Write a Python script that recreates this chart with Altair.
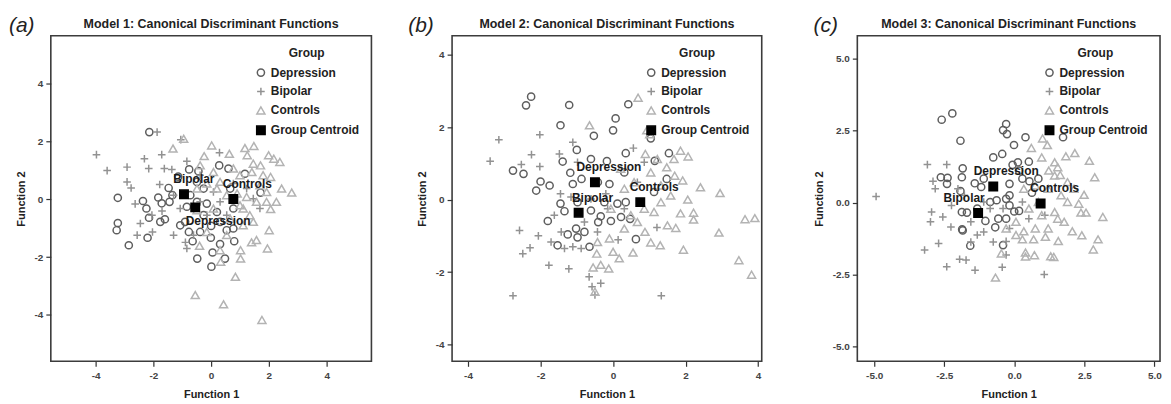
import altair as alt
import pandas as pd

GROUPS = ["Depression", "Bipolar", "Controls", "Group Centroid"]
STROKES = ["#5e5e5e", "#929292", "#b3b3b3", "#000000"]
FILLS = ["transparent", "transparent", "transparent", "#000000"]
SHAPES = ["circle", "M-1,0H1M0,-1V1", "triangle-up", "square"]
SIZES = [52, 72, 72, 64]

# ---------------- Model 1 ----------------
a_depression = [(-2.14, 2.32), (-3.23, 0.05), (-3.23, -0.82), (-3.27, -1.07), (-2.85, -1.59), (-2.36, -0.06),
                (-2.24, -0.32), (-2.15, -0.64), (-2.2, -1.33), (-1.83, 0.06), (-1.71, -0.14), (-1.76, -0.78),
                (-1.6, -0.69), (-1.44, -0.09), (-1.34, 0.14), (-1.47, 0.39), (-1.07, -0.9), (-0.77, -1.13),
                (-0.64, -1.45), (-0.48, -2.05), (0.01, -2.33), (0.05, -1.84), (-0.01, -1.33), (0.31, -1.55),
                (0.48, -2.05), (0.8, -1.45), (0.77, -1.01), (0.54, -1.07), (1.17, 0.88), (1.71, 0.23),
                (0.28, 1.17), (0.6, 1.06), (-0.44, 0.97), (-0.76, 1.03), (-1.14, 0.78), (-0.15, -0.15),
                (0.0, -0.92), (-0.26, -0.55), (-0.49, -0.09), (-0.84, -0.26), (0.2, -0.44), (0.77, -0.32),
                (-0.38, -1.13), (0.31, -0.78), (-0.72, 0.14), (0.66, 0.37), (-0.26, 0.37), (-0.9, -0.78),
                (-0.49, 0.6)]
a_bipolar = [(-1.87, 2.32), (-3.97, 1.54), (-3.6, 0.99), (-2.91, 1.11), (-2.91, 0.6), (-2.77, 0.39), (-2.31, 1.4),
             (-2.16, 1.06), (-1.71, 1.54), (-1.62, 1.06), (-1.78, 0.51), (-2.63, -0.16), (-2.45, -0.84),
             (-2.56, -1.24), (-2.03, -1.13), (-2.05, -0.55), (-1.7, -0.41), (-1.3, -1.24), (-1.05, 2.06),
             (-1.36, 1.03), (-0.84, 1.31), (-0.84, -1.7), (-0.89, -1.49), (0.29, 1.61), (-0.38, 0.83),
             (0.08, 0.25), (-0.38, -0.09), (-0.15, -0.55), (1.46, 0.02), (1.69, -0.32), (0.77, 0.54),
             (-1.07, -0.32), (-1.3, 0.14), (0.31, -0.09), (-0.61, -1.24), (1.23, 0.37), (0.54, -0.55)]
a_controls = [(-0.95, 2.09), (-1.32, 1.75), (0.02, 1.86), (-0.24, 1.49), (0.63, 1.57), (1.17, 1.77), (1.48, 1.84),
              (1.25, 1.52), (1.46, 1.23), (1.71, 1.17), (1.99, 1.52), (2.17, 1.4), (2.38, 1.29), (2.06, 0.77),
              (2.44, 0.37), (2.79, 0.23), (2.26, -0.09), (2.06, -0.34), (2.01, -1.07), (1.95, -1.7),
              (1.57, -1.41), (1.4, -1.49), (1.02, -1.76), (1.02, -2.05), (0.84, -2.68), (0.43, -3.63),
              (-0.55, -3.31), (1.76, -4.17), (0.33, -2.16), (-0.4, -1.61), (0.31, -1.76), (1.0, -0.21),
              (1.34, -0.55), (0.9, 0.2), (0.31, 0.6), (1.0, 0.83), (0.08, 0.94), (-0.38, 1.17), (-0.49, 0.37),
              (0.54, 0.14), (1.69, 0.48), (1.92, -0.09), (0.08, -0.32), (0.66, -0.67), (1.11, -0.9),
              (1.46, -0.78), (-0.15, -1.13), (0.77, 1.06), (1.41, 0.94), (1.8, 0.83), (1.57, -0.09),
              (1.23, 0.08), (0.2, 0.37), (1.11, -0.32), (-0.49, -0.38), (0.54, -1.24), (-0.15, 0.54),
              (1.92, 0.25)]
a_centroids = {"Depression": (-0.55, -0.28), "Bipolar": (-0.94, 0.17), "Controls": (0.77, 0.01)}

# ---------------- Model 2 ----------------
b_depression = [(-2.26, 2.84), (-2.4, 2.6), (-1.21, 2.61), (0.42, 2.63), (-1.45, 2.05), (0.07, 2.24), (0.0, 1.91),
                (-0.53, 1.76), (1.04, 1.69), (-1.0, 1.37), (-2.76, 0.8), (-2.47, 0.71), (-2.0, 0.5), (-1.75, 0.39),
                (-2.12, 0.25), (-1.39, 1.05), (-0.61, 1.12), (-0.17, 1.06), (0.35, 1.28), (1.15, 1.07),
                (1.54, 1.28), (1.48, 0.57), (1.13, 0.21), (-1.18, 0.74), (-0.87, 0.57), (-1.11, 0.43),
                (-0.42, 0.48), (-0.1, 0.43), (-1.45, -0.11), (-1.34, -0.32), (-1.8, -0.59), (-1.53, -1.26),
                (-1.25, -0.96), (-0.98, -1.04), (-0.79, -0.89), (-0.65, -1.3), (-0.06, -0.59), (-0.41, -0.62),
                (-0.34, -0.46), (0.12, -0.11), (0.35, -0.07), (0.47, -0.53), (0.22, -0.48), (0.63, -1.09),
                (-1.02, -0.8), (-0.61, -0.3), (-0.24, -0.07), (0.31, 0.75), (-0.98, -0.07)]
b_bipolar = [(-3.15, 1.65), (-3.39, 1.06), (-2.02, 1.79), (-2.25, 1.24), (-2.53, 0.97), (-2.02, 0.91),
             (-2.58, -0.85), (-2.49, -1.49), (-2.29, -1.33), (-2.06, -1.0), (-1.77, -1.81), (-1.22, -1.91),
             (-2.76, -2.65), (-1.11, 1.58), (-1.48, 1.26), (-0.66, -2.13), (-0.58, -2.4), (-0.5, -2.63),
             (-0.34, -2.31), (1.33, -2.65), (0.14, -1.11), (1.21, -0.77), (0.56, 1.42), (-1.62, -0.43),
             (-1.43, -0.89), (-1.34, -1.35), (-1.11, -1.3), (-0.88, -1.35), (-0.43, -0.89), (-1.45, 0.16),
             (-1.16, 0.07), (-0.61, 0.02), (-0.2, 0.16), (-0.79, -0.62), (-0.98, 1.03), (-1.71, -1.17),
             (0.31, -0.25), (0.67, 0.48), (0.86, 1.03), (-0.15, -0.25)]
b_controls = [(0.69, 2.81), (-0.65, 2.05), (0.93, 1.91), (1.01, 1.8), (0.89, 1.26), (1.22, 1.12), (1.86, 1.35),
              (2.07, 1.19), (1.48, 0.89), (1.7, 0.66), (1.92, 0.53), (2.41, 0.34), (2.95, 0.18), (2.06, 0.0),
              (1.86, -0.38), (2.22, -0.36), (2.22, -0.55), (2.92, -0.91), (3.64, -0.54), (3.91, -0.51),
              (3.47, -1.67), (3.82, -2.07), (1.94, -1.38), (1.73, -0.78), (1.5, -0.71), (1.3, -1.26),
              (1.04, -1.18), (0.88, -0.89), (0.55, -1.46), (0.17, -1.62), (0.0, -1.44), (-0.1, -1.07),
              (-0.12, -1.9), (-0.34, -1.8), (-0.55, -1.87), (-0.5, -2.54), (-0.45, -1.49), (0.49, -0.43),
              (0.86, -0.25), (1.13, -0.34), (1.32, -0.07), (1.59, 0.11), (0.31, 0.3), (0.58, 0.48),
              (1.04, 0.75), (0.21, 0.85), (-0.06, -0.25), (0.31, -0.8), (0.67, -0.62), (1.32, 0.39),
              (-0.43, -1.17), (1.68, 1.12)]
b_centroids = {"Depression": (-0.5, 0.48), "Bipolar": (-0.95, -0.36), "Controls": (0.75, -0.07)}

# ---------------- Model 3 ----------------
c_depression = [(-2.59, 2.88), (-2.21, 3.1), (-1.92, 2.15), (-0.29, 2.73), (-0.4, 2.52), (-0.26, 2.38), (0.4, 2.27),
                (-0.01, 2.0), (1.74, 2.27), (-0.75, 1.57), (-0.43, 1.69), (-0.06, 1.31), (0.13, 1.4), (0.52, 1.42),
                (-2.62, 0.88), (-2.38, 0.86), (-2.4, 0.65), (-1.84, 1.19), (-1.87, 0.88), (-1.92, 0.4),
                (-1.87, -0.33), (-1.69, -0.35), (-1.86, -0.93), (-1.84, -0.97), (-1.57, -1.5), (-0.4, -1.48),
                (-0.68, -0.86), (-1.41, 0.67), (-1.18, 0.54), (-1.32, -0.21), (-1.03, -0.64), (-0.57, -0.56),
                (-0.29, -0.56), (-0.17, 0.25), (0.0, -0.31), (0.17, -0.29), (0.29, 0.83), (0.54, 0.74),
                (0.63, 0.34), (-0.17, 0.65), (-0.29, 0.13), (0.17, 1.11), (-0.63, 0.08), (-0.86, 0.02),
                (0.86, 0.83), (-1.09, 0.83), (-0.17, -0.1)]
c_bipolar = [(-4.93, 0.21), (-3.1, 1.32), (-2.41, 1.32), (-2.9, 0.74), (-2.95, -0.33), (-2.99, -0.67),
             (-2.55, -0.5), (-3.2, -1.65), (-2.7, -1.42), (-2.26, -0.85), (-2.41, -2.23), (-1.95, -1.97),
             (-1.72, -2.0), (-1.4, -2.35), (-0.43, -2.25), (-0.29, -1.82), (1.07, -2.5), (-0.29, -1.35),
             (-2.24, -0.1), (-1.55, -0.67), (-1.32, -1.13), (-1.09, -1.02), (-0.86, -0.21), (-0.17, -0.9),
             (0.52, -0.56), (1.09, -0.44), (-2.01, 0.48), (-1.78, 0.25), (-1.55, -1.37), (-1.09, 0.02),
             (-0.4, -0.21), (-2.82, 0.48), (0.29, 0.02), (-0.75, -1.37)]
c_controls = [(1.01, 2.23), (1.18, 2.0), (0.61, 1.9), (0.98, 1.57), (1.44, 1.4), (1.84, 1.61), (2.16, 1.72),
              (2.68, 1.45), (2.87, 0.88), (1.64, 0.96), (1.23, 1.11), (1.55, 1.23), (2.49, 0.27), (2.3, -0.04),
              (2.38, -0.35), (2.56, -0.35), (3.16, -0.5), (2.99, -1.28), (2.82, -1.63), (2.41, -1.14),
              (2.07, -1.0), (1.57, -1.34), (1.41, -1.89), (1.3, -1.87), (0.72, -1.83), (0.4, -1.74),
              (0.4, -1.88), (0.29, -1.28), (0.69, -1.28), (1.11, -1.19), (0.34, -1.0), (-0.29, -0.9),
              (-0.67, -2.61), (-0.46, -1.77), (0.06, -0.67), (0.52, -0.21), (0.98, -0.44), (1.44, -0.33),
              (1.78, -0.67), (1.9, 0.02), (1.67, 0.25), (1.21, 0.48), (0.75, 0.59), (0.34, 0.48), (1.9, 0.71),
              (2.13, 0.48), (1.55, -0.56), (1.21, -0.9), (0.75, -0.9), (0.06, -1.13), (1.44, 0.94), (0.86, 0.02)]
c_centroids = {"Depression": (-0.75, 0.56), "Bipolar": (-1.29, -0.36), "Controls": (0.94, -0.03)}

TITLES = ["Model 1: Canonical Discriminant Functions",
          "Model 2: Canonical Discriminant Functions",
          "Model 3: Canonical Discriminant Functions"]
TAGS = ["(a)", "(b)", "(c)"]
TICKS_AB = [-4, -2, 0, 2, 4]
TICKS_C = [-5.0, -2.5, 0.0, 2.5, 5.0]


def table(dep, bip, con, cen):
    rows = []
    for g, pts in (("Depression", dep), ("Bipolar", bip), ("Controls", con)):
        for x, y in pts:
            rows.append({"group": g, "f1": x, "f2": y, "label": ""})
    for name, (x, y) in cen.items():
        rows.append({"group": "Group Centroid", "f1": x, "f2": y, "label": name})
    return pd.DataFrame(rows)


LEG = alt.Legend(orient="top-right", title="Group", offset=12, padding=0, titleAnchor="middle",
                 titleFontSize=12, titleFontWeight="bold", titleColor="#222", titlePadding=7,
                 labelFontSize=12, labelFontWeight="bold", labelColor="#222", labelOffset=4,
                 rowPadding=5, symbolStrokeWidth=1.5)


def panel(i, df, xdom, ydom, ticks, fmt, width, height, offsets, tag_x):
    lab = f"(datum.value < 0 ? '-' : '') + format(abs(datum.value), '{fmt}')"
    x = alt.X("f1:Q", scale=alt.Scale(domain=xdom, nice=False, zero=False),
              axis=alt.Axis(values=ticks, labelExpr=lab, title="Function 1"))
    y = alt.Y("f2:Q", scale=alt.Scale(domain=ydom, nice=False, zero=False),
              axis=alt.Axis(values=ticks, labelExpr=lab, title="Function 2"))
    base = alt.Chart(df)
    pts = base.mark_point(opacity=1, strokeWidth=1.5).encode(
        x=x, y=y,
        shape=alt.Shape("group:N", scale=alt.Scale(domain=GROUPS, range=SHAPES), legend=LEG),
        stroke=alt.Stroke("group:N", scale=alt.Scale(domain=GROUPS, range=STROKES), legend=LEG),
        fill=alt.Fill("group:N", scale=alt.Scale(domain=GROUPS, range=FILLS), legend=LEG),
        size=alt.Size("group:N", scale=alt.Scale(domain=GROUPS, range=SIZES), legend=LEG),
    )
    layers = [pts]
    for name, (dx, dy) in offsets.items():
        layers.append(
            base.transform_filter(alt.datum.label == name)
            .mark_text(dx=dx, dy=dy, fontSize=12, fontWeight="bold", color="#1a1a1a")
            .encode(x=x, y=y, text="label:N")
        )
    head = pd.DataFrame({"t": [TAGS[i]], "title": [TITLES[i]]})
    tag = alt.Chart(head).mark_text(
        align="left", baseline="middle", fontSize=21, fontStyle="italic", color="#222"
    ).encode(text="t:N", x=alt.value(tag_x), y=alt.value(-10))
    ttl = alt.Chart(head).mark_text(
        align="center", baseline="middle", fontSize=12.5, fontWeight="bold", color="#222"
    ).encode(text="title:N", x=alt.value(width / 2), y=alt.value(-12))
    layers += [tag, ttl]
    return alt.layer(*layers).properties(width=width, height=height)


pa = panel(0, table(a_depression, a_bipolar, a_controls, a_centroids), [-5.55, 5.55], [-5.6, 5.65],
           TICKS_AB, "d", 322, 327,
           {"Bipolar": (10, -15), "Controls": (14, -15), "Depression": (23, 14)}, -42)
pb = panel(1, table(b_depression, b_bipolar, b_controls, b_centroids), [-4.44, 4.1], [-4.46, 4.52],
           TICKS_AB, "d", 311, 327,
           {"Depression": (14, -15), "Bipolar": (14, -15), "Controls": (14, -15)}, -44)
pc = panel(2, table(c_depression, c_bipolar, c_controls, c_centroids), [-5.6, 5.2], [-5.52, 5.8],
           TICKS_C, ".1f", 304, 327,
           {"Depression": (13, -15), "Bipolar": (-14, -15), "Controls": (14, -15)}, -44)

RES = dict(x="independent", y="independent", shape="independent", stroke="independent",
           fill="independent", size="independent")

inner = alt.hconcat(pb, pc, spacing=49).resolve_scale(**RES)
chart = (
    alt.hconcat(pa, inner, spacing=35)
    .resolve_scale(**RES)
    .properties(padding={"left": 0, "top": 5, "right": 0, "bottom": 0})
    .configure(font="Liberation Sans")
    .configure_view(stroke="#3c3c3c", strokeWidth=1.6)
    .configure_axis(grid=False, domain=False, tickColor="#333", tickSize=5, tickWidth=1.2,
                    labelFontSize=10, labelFontWeight="bold", labelColor="#444",
                    titleFontSize=11, titleFontWeight="bold", titleColor="#222")
    .configure_axisX(labelPadding=4, titlePadding=8)
    .configure_axisY(labelPadding=3, titlePadding=8)
)

chart.save("out.html", embed_options={"renderer": "svg", "actions": False})
